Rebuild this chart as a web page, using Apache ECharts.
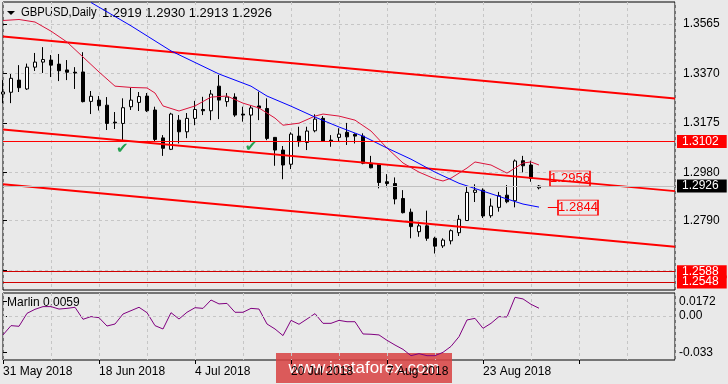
<!DOCTYPE html>
<html><head><meta charset="utf-8">
<script src="https://cdn.jsdelivr.net/npm/echarts@6/dist/echarts.min.js"></script>
<style>html,body{margin:0;padding:0;background:#e9e9e9;}#c{width:728px;height:384px;}</style>
</head><body><div id="c"></div>
<script>
// ---- data ----
const dates = ['31 May 2018','1 Jun 2018','4 Jun 2018','5 Jun 2018','6 Jun 2018','7 Jun 2018','8 Jun 2018',
 '11 Jun 2018','12 Jun 2018','13 Jun 2018','14 Jun 2018','15 Jun 2018','18 Jun 2018','19 Jun 2018','20 Jun 2018',
 '21 Jun 2018','22 Jun 2018','25 Jun 2018','26 Jun 2018','27 Jun 2018','28 Jun 2018','29 Jun 2018','2 Jul 2018',
 '3 Jul 2018','4 Jul 2018','5 Jul 2018','6 Jul 2018','9 Jul 2018','10 Jul 2018','11 Jul 2018','12 Jul 2018',
 '13 Jul 2018','16 Jul 2018','17 Jul 2018','18 Jul 2018','19 Jul 2018','20 Jul 2018','23 Jul 2018','24 Jul 2018',
 '25 Jul 2018','26 Jul 2018','27 Jul 2018','30 Jul 2018','31 Jul 2018','1 Aug 2018','2 Aug 2018','3 Aug 2018',
 '6 Aug 2018','7 Aug 2018','8 Aug 2018','9 Aug 2018','10 Aug 2018','13 Aug 2018','14 Aug 2018','15 Aug 2018',
 '16 Aug 2018','17 Aug 2018','20 Aug 2018','21 Aug 2018','22 Aug 2018','23 Aug 2018','24 Aug 2018','27 Aug 2018',
 '28 Aug 2018','29 Aug 2018','30 Aug 2018','31 Aug 2018','3 Sep 2018'];
const opens  = [1.3289,1.3296,1.3344,1.3309,1.3395,1.3415,1.3423,1.3407,1.3384,1.3375,1.3376,1.3260,1.3265,1.3245,1.3178,1.3173,1.3239,1.3256,1.3281,1.3226,1.3116,1.3071,1.3186,1.3140,1.3193,1.3228,1.3223,1.3320,1.3259,1.3277,1.3210,1.3206,1.3242,1.3232,1.3118,1.3068,1.3012,1.3123,1.3098,1.3144,1.3193,1.3107,1.3118,1.3138,1.3130,1.3123,1.3016,1.3012,1.2943,1.2936,1.2877,1.2823,1.2746,1.2769,1.2720,1.2690,1.2710,1.2742,1.2790,1.2901,1.2910,1.2809,1.2842,1.2890,1.2868,1.3026,1.3009,1.2919];
const highs  = [1.3344,1.3368,1.3403,1.3409,1.3451,1.3474,1.3443,1.3447,1.3423,1.3395,1.3454,1.3301,1.3281,1.3277,1.3218,1.3272,1.3313,1.3297,1.3293,1.3239,1.3127,1.3215,1.3206,1.3214,1.3262,1.3278,1.3305,1.3364,1.3293,1.3292,1.3239,1.3245,1.3298,1.3272,1.3119,1.3084,1.3138,1.3160,1.3160,1.3209,1.3202,1.3127,1.3154,1.3175,1.3134,1.3134,1.3045,1.3016,1.2973,1.2960,1.2910,1.2837,1.2785,1.2829,1.2726,1.2720,1.2755,1.2812,1.2923,1.2933,1.2917,1.2877,1.2903,1.2930,1.3031,1.3045,1.3026,1.2930];
const lows   = [1.3253,1.3253,1.3297,1.3305,1.3380,1.3372,1.3356,1.3340,1.3344,1.3309,1.3256,1.3210,1.3224,1.3147,1.3151,1.3107,1.3226,1.3222,1.3218,1.3101,1.3045,1.3068,1.3094,1.3115,1.3166,1.3206,1.3186,1.3190,1.3239,1.3199,1.3180,1.3101,1.3186,1.3107,1.3006,1.2953,1.2993,1.3081,1.3068,1.3138,1.3101,1.3081,1.3101,1.3088,1.3094,1.3012,1.2996,1.2917,1.2921,1.2854,1.2818,1.2720,1.2726,1.2710,1.2660,1.2682,1.2696,1.2729,1.2789,1.2863,1.2800,1.2801,1.2825,1.2858,1.2842,1.2980,1.2943,1.2913];
const closes = [1.3297,1.3351,1.3314,1.3395,1.3415,1.3425,1.3403,1.3381,1.3375,1.3372,1.3259,1.3280,1.3243,1.3173,1.3175,1.3235,1.3265,1.3279,1.3223,1.3110,1.3075,1.3210,1.3140,1.3193,1.3228,1.3223,1.3289,1.3265,1.3277,1.3206,1.3206,1.3234,1.3234,1.3114,1.3068,1.3009,1.3131,1.3101,1.3143,1.3190,1.3104,1.3103,1.3131,1.3120,1.3123,1.3016,1.2998,1.2940,1.2936,1.2875,1.2821,1.2766,1.2769,1.2720,1.2689,1.2713,1.2750,1.2795,1.2901,1.2910,1.2808,1.2847,1.2888,1.2864,1.3025,1.3006,1.2956,1.2926];
const marlin = [-0.0139,-0.0070,-0.0075,0.0021,0.0051,0.0071,0.0071,0.0053,0.0058,0.0066,-0.0023,-0.0003,-0.0011,-0.0073,-0.0058,0.0016,0.0041,0.0066,0.0026,-0.0070,-0.0095,0.0026,-0.0021,0.0029,0.0063,0.0058,0.0120,0.0091,0.0095,0.0029,0.0029,0.0058,0.0053,-0.0058,-0.0095,-0.0144,-0.0031,-0.0060,-0.0021,0.0019,-0.0053,-0.0053,-0.0031,-0.0041,-0.0041,-0.0132,-0.0134,-0.0139,-0.0179,-0.0214,-0.0246,-0.0293,-0.0278,-0.0293,-0.0293,-0.0268,-0.0224,-0.0152,-0.0028,-0.0016,-0.0090,-0.0053,-0.0003,-0.0006,0.0140,0.0128,0.0088,0.0059];
const maBlueBars = [11,16,21,27,31,33,36,39,42,45,48,51,54,57,60,63,65,67];
const maBlueVals = [1.3650,1.3558,1.3459,1.3368,1.3320,1.3281,1.3241,1.3198,1.3159,1.3123,1.3076,1.3032,1.2981,1.2937,1.2906,1.2875,1.2855,1.2843];
const maRedBars = [0,2,4,6,8,10,12,14,16,18,19,20,22,24,26,28,30,32,34,35,37,39,40,42,44,46,48,50,52,54,55,56,58,59,61,63,64,65,66,67];
const maRedVals = [1.3579,1.3583,1.3573,1.3537,1.3494,1.3435,1.3376,1.3320,1.3315,1.3313,1.3293,1.3242,1.3222,1.3242,1.3277,1.3281,1.3253,1.3234,1.3194,1.3166,1.3174,1.3202,1.3210,1.3202,1.3186,1.3143,1.3076,1.3017,1.2981,1.2954,1.2946,1.2957,1.2997,1.3021,1.3009,1.2977,1.2997,1.3017,1.3021,1.3009];
const channelBars = [0, 84];
const channelUpper = [1.3516, 1.3271];
const channelMid = [1.3149, 1.2906];
const channelLow = [1.2933, 1.2687];
const priceTicks = [1.2595, 1.2790, 1.2980, 1.3175, 1.3370, 1.3565];
const priceLabels = [1.2790, 1.2980, 1.3175, 1.3370, 1.3565];
const levelRes = 1.3102;
const levelsLow = [1.2588, 1.2548];
const lastPrice = 1.2926;
const boxLevels = [1.2956, 1.2844];
const marlinLabels = ['0.0172', '0.00', '-0.033'];
const dateTickBars = [0, 12, 24, 36, 48, 60];

// ---- chart ----
const n = closes.length;
const FONT = 'Liberation Sans';
const chart = echarts.init(document.getElementById('c'), null, {renderer: 'canvas'});
const grid0 = {left: 3, top: 2, width: 672, height: 288, show: true, borderColor: '#000', borderWidth: 1, backgroundColor: 'transparent'};
const grid1 = {left: 3, top: 293, width: 672, height: 67, show: true, borderColor: '#000', borderWidth: 1, backgroundColor: 'transparent'};
const dash = {show: true, lineStyle: {color: '#c6c6c6', width: 1, type: [3, 3]}};
const marlinPos = [0.0108, 0, -0.0271];

function levelLabel(bg) {
  return {show: true, position: 'end', distance: 2, backgroundColor: bg, color: '#fff',
          padding: [1, 8, 0, 5], fontSize: 12, lineHeight: 12, fontFamily: FONT};
}

const option = {
  animation: false,
  backgroundColor: '#e9e9e9',
  textStyle: {fontFamily: FONT},
  grid: [grid0, grid1],
  xAxis: [
    {gridIndex: 0, type: 'value', min: 0, max: 84, interval: 6, axisLine: {show: false}, axisTick: {show: false}, axisLabel: {show: false}, splitLine: dash},
    {gridIndex: 1, type: 'value', min: 0, max: 84, interval: 6, axisLine: {show: false}, axisTick: {show: false}, axisLabel: {show: false}, splitLine: dash},
    {gridIndex: 1, type: 'value', min: 0, max: 84, position: 'bottom', axisLine: {show: false}, splitLine: {show: false},
     axisTick: {show: true, customValues: [0, 12, 24, 36, 48, 60, 72], length: 4, lineStyle: {color: '#000'}},
     axisLabel: {show: true, customValues: dateTickBars, formatter: v => dates[Math.round(v)] || '', align: 'left', margin: 6, color: '#000', fontSize: 12, fontFamily: FONT}}
  ],
  yAxis: [
    {gridIndex: 0, type: 'value', position: 'right', min: 1.2516, max: 1.3652, axisLine: {show: false},
     axisTick: {show: true, customValues: priceTicks, length: 4, lineStyle: {color: '#000'}},
     axisLabel: {show: true, customValues: priceLabels, formatter: v => v.toFixed(4), margin: 8, color: '#000', fontSize: 12, fontFamily: FONT},
     splitLine: dash},
    {gridIndex: 1, type: 'value', position: 'right', min: -0.0325, max: 0.0172, axisLine: {show: false},
     axisTick: {show: true, customValues: marlinPos, length: 4, lineStyle: {color: '#000'}},
     axisLabel: {show: true, customValues: marlinPos, formatter: v => marlinLabels[marlinPos.findIndex(p => Math.abs(p - v) < 1e-6)] || '', margin: 4, color: '#000', fontSize: 12, fontFamily: FONT},
     splitLine: {show: false}}
  ],
  series: [
    {type: 'line', xAxisIndex: 0, yAxisIndex: 0, symbol: 'none', silent: true,
     data: channelBars.map((b, k) => [b, channelLow[k]]), lineStyle: {color: '#ff0000', width: 2}},
    {type: 'line', xAxisIndex: 0, yAxisIndex: 0, symbol: 'none', silent: true,
     data: channelBars.map((b, k) => [b, channelMid[k]]), lineStyle: {color: '#ff0000', width: 2},
     markPoint: {silent: true, data: [
       {coord: [70.875, boxLevels[0]], symbol: 'rect', symbolSize: [40, 15], itemStyle: {color: 'rgba(0,0,0,0)', borderColor: '#ff0000', borderWidth: 1},
        label: {show: true, position: 'inside', formatter: boxLevels[0].toFixed(4), color: '#ff0000', fontSize: 13, fontFamily: FONT}},
       {coord: [71.875, boxLevels[1] - 0.0003], symbol: 'rect', symbolSize: [40, 15], itemStyle: {color: 'rgba(0,0,0,0)', borderColor: '#ff0000', borderWidth: 1},
        label: {show: true, position: 'inside', formatter: boxLevels[1].toFixed(4), color: '#ff0000', fontSize: 13, fontFamily: FONT}}
     ]},
     markLine: {silent: true, precision: 6, symbol: ['none', 'none'], label: {show: false}, data: [
       [{coord: [68.1, boxLevels[1] - 0.0003]}, {coord: [69.4, boxLevels[1] - 0.0003], lineStyle: {color: '#ff0000', width: 1, type: 'solid'}}]
     ]}},
    {type: 'line', xAxisIndex: 0, yAxisIndex: 0, symbol: 'none', silent: true,
     data: channelBars.map((b, k) => [b, channelUpper[k]]), lineStyle: {color: '#ff0000', width: 2}},
    {type: 'candlestick', xAxisIndex: 0, yAxisIndex: 0, barWidth: 4, silent: true,
     data: opens.map((o, i) => [i, o, closes[i], lows[i], highs[i]]),
     itemStyle: {color: '#ffffff', color0: '#000000', borderColor: '#000000', borderColor0: '#000000', borderWidth: 1},
     markLine: {silent: true, precision: 6, symbol: ['none', 'none'], data: [
       {yAxis: lastPrice, lineStyle: {color: '#c0c0c0', width: 1, type: 'solid'}, label: Object.assign(levelLabel('#000'), {formatter: lastPrice.toFixed(4)})},
       {yAxis: levelRes, lineStyle: {color: '#ff0000', width: 1, type: 'solid'}, label: Object.assign(levelLabel('#ff0000'), {formatter: levelRes.toFixed(4)})},
       {yAxis: levelsLow[0], lineStyle: {color: '#d00000', width: 1, type: 'solid'}, label: Object.assign(levelLabel('#ff0000'), {formatter: levelsLow[0].toFixed(4)})},
       {yAxis: levelsLow[1], lineStyle: {color: '#d00000', width: 1, type: 'solid'}, label: Object.assign(levelLabel('#ff0000'), {formatter: levelsLow[1].toFixed(4)})}
     ]},
     markPoint: {silent: true, data: [
       {coord: [14.9, 1.3070]}, {coord: [31, 1.3080]}
     ], symbol: 'rect', symbolSize: 2, itemStyle: {color: 'rgba(0,0,0,0)'},
     label: {show: true, position: 'inside', formatter: '\u2714', color: '#23a050', fontSize: 15, fontFamily: 'DejaVu Sans'}}},
    {type: 'line', xAxisIndex: 0, yAxisIndex: 0, symbol: 'none', silent: true,
     data: maRedBars.map((b, k) => [b, maRedVals[k]]), lineStyle: {color: '#dc143c', width: 1}},
    {type: 'line', xAxisIndex: 0, yAxisIndex: 0, symbol: 'none', silent: true,
     data: maBlueBars.map((b, k) => [b, maBlueVals[k]]), lineStyle: {color: '#0000ff', width: 1}},
    {type: 'line', xAxisIndex: 1, yAxisIndex: 1, symbol: 'none', silent: true,
     data: marlin.map((v, i) => [i, v]), lineStyle: {color: '#800080', width: 1},
     markLine: {silent: true, precision: 6, symbol: ['none', 'none'], label: {show: false},
       data: [{yAxis: 0, lineStyle: {color: '#c6c6c6', width: 1, type: [3, 3]}}]}}
  ],
  graphic: [
    {type: 'polygon', shape: {points: [[7, 11], [15, 11], [11, 15]]}, style: {fill: '#000'}},
    {type: 'text', x: 21, y: 13, scaleX: 0.9, style: {x: 0, y: 0, text: 'GBPUSD,Daily', verticalAlign: 'middle', font: '12.5px "Liberation Sans"', fill: '#000'}},
    {type: 'text', style: {x: 102, y: 13, verticalAlign: 'middle', font: '13px "Liberation Sans"', fill: '#000',
      text: [opens[n - 1], highs[n - 1], lows[n - 1], closes[n - 1]].map(v => v.toFixed(4)).join(' ')}},
    {type: 'text', style: {x: 7, y: 303, verticalAlign: 'middle', font: '12px "Liberation Sans"', fill: '#000',
      text: 'Marlin ' + marlin[n - 1].toFixed(4)}},
    {type: 'group', x: 276, y: 353, z: 100, children: [
      {type: 'rect', shape: {x: 0, y: 0, width: 176, height: 30}, style: {fill: 'rgba(216,66,66,0.86)'}},
      {type: 'text', style: {x: 88, y: 15, text: 'www.instaforex.com', align: 'center', verticalAlign: 'middle', font: '17px "Liberation Sans"', fill: '#fff'}}
    ]}
  ]
};
chart.setOption(option);
</script></body></html>
